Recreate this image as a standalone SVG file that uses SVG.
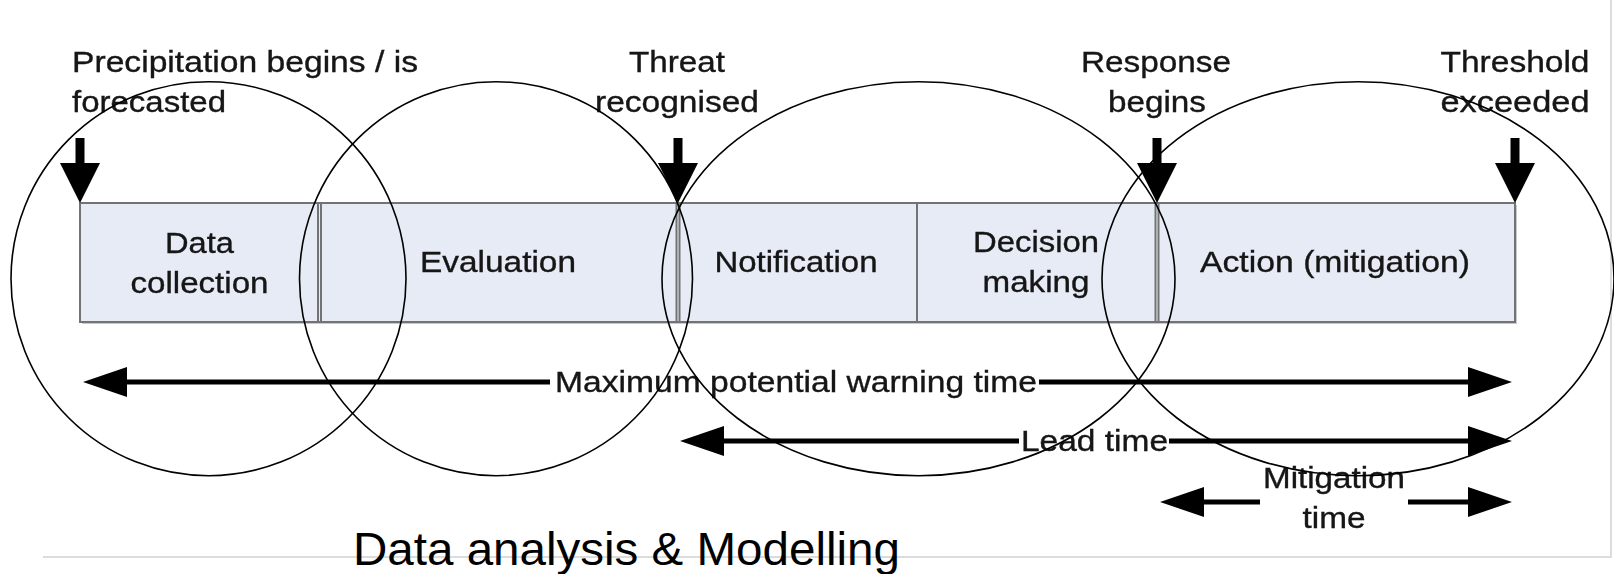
<svg xmlns="http://www.w3.org/2000/svg" width="1614" height="574" viewBox="0 0 1614 574">
  <defs>
    <style>
      .lbl { font-family: "Liberation Sans", Arial, sans-serif; font-size: 30px; fill: #141414; stroke: #141414; stroke-width: 0.35px; }
      .mid { text-anchor: middle; }
      .cell { fill: #e6ebf5; stroke: none; }
      .edge { stroke: #737373; stroke-width: 2; fill: none; }
      .shaft { stroke: #000; stroke-width: 5; fill: none; }
      .drop { stroke: #000; stroke-width: 9; fill: none; }
      .ring { fill: none; stroke: #000; stroke-width: 1.6; }
      .frame { stroke: #dcdcdc; stroke-width: 2; fill: none; }
    </style>
    <marker id="head" markerUnits="userSpaceOnUse" markerWidth="46" markerHeight="32" refX="1" refY="15" orient="auto-start-reverse" overflow="visible">
      <path d="M0,0 L44,15 L0,30 Z" fill="#000"/>
    </marker>
    <marker id="dropHead" markerUnits="userSpaceOnUse" markerWidth="42" markerHeight="42" refX="1" refY="20" orient="auto" overflow="visible">
      <path d="M0,0 L40,20 L0,40 Z" fill="#000"/>
    </marker>
    <filter id="soft" x="-2%" y="-2%" width="104%" height="104%">
      <feGaussianBlur stdDeviation="0.5"/>
    </filter>
  </defs>

  <rect width="1614" height="574" fill="#fff"/>

  <!-- page frame -->
  <g id="frame">
    <line class="frame" x1="43" y1="557" x2="1612" y2="557"/>
    <line class="frame" x1="1611" y1="0" x2="1611" y2="557"/>
  </g>

  <g id="timeline" filter="url(#soft)">
    <!-- shadow of the phase bar -->
    <rect x="82" y="205" width="1435" height="119" fill="#c9c9c9"/>

    <g id="node-data-collection">
      <rect class="cell" x="80" y="203" width="239" height="119"/>
      <text class="lbl mid" x="199.5" y="253" textLength="69" lengthAdjust="spacingAndGlyphs">Data</text>
      <text class="lbl mid" x="199.5" y="293" textLength="138" lengthAdjust="spacingAndGlyphs">collection</text>
    </g>
    <g id="node-evaluation">
      <rect class="cell" x="319" y="203" width="359" height="119"/>
      <text class="lbl mid" x="498" y="272" textLength="156" lengthAdjust="spacingAndGlyphs">Evaluation</text>
    </g>
    <g id="node-notification">
      <rect class="cell" x="678" y="203" width="239" height="119"/>
      <text class="lbl mid" x="796" y="272" textLength="163" lengthAdjust="spacingAndGlyphs">Notification</text>
    </g>
    <g id="node-decision-making">
      <rect class="cell" x="917" y="203" width="240" height="119"/>
      <text class="lbl mid" x="1036" y="252" textLength="126" lengthAdjust="spacingAndGlyphs">Decision</text>
      <text class="lbl mid" x="1036" y="292" textLength="107" lengthAdjust="spacingAndGlyphs">making</text>
    </g>
    <g id="node-action">
      <rect class="cell" x="1157" y="203" width="358" height="119"/>
      <text class="lbl mid" x="1335" y="272" textLength="270" lengthAdjust="spacingAndGlyphs">Action (mitigation)</text>
    </g>

    <!-- bar outline and phase dividers -->
    <g id="bar-edges">
      <rect class="edge" x="80" y="203" width="1435" height="119"/>
      <line class="edge" x1="318" y1="203" x2="318" y2="322"/>
      <line class="edge" x1="321" y1="203" x2="321" y2="322"/>
      <line class="edge" x1="676.5" y1="203" x2="676.5" y2="322"/>
      <line class="edge" x1="679.5" y1="203" x2="679.5" y2="322"/>
      <line class="edge" x1="917" y1="203" x2="917" y2="322"/>
      <line class="edge" x1="1155.5" y1="203" x2="1155.5" y2="322"/>
      <line class="edge" x1="1158.5" y1="203" x2="1158.5" y2="322"/>
    </g>

    <!-- milestone captions -->
    <g id="node-precipitation">
      <text class="lbl" x="72" y="72" textLength="346" lengthAdjust="spacingAndGlyphs">Precipitation begins / is</text>
      <text class="lbl" x="72" y="112" textLength="154" lengthAdjust="spacingAndGlyphs">forecasted</text>
    </g>
    <g id="node-threat">
      <text class="lbl mid" x="677" y="72" textLength="96" lengthAdjust="spacingAndGlyphs">Threat</text>
      <text class="lbl mid" x="677" y="112" textLength="164" lengthAdjust="spacingAndGlyphs">recognised</text>
    </g>
    <g id="node-response">
      <text class="lbl mid" x="1156" y="72" textLength="150" lengthAdjust="spacingAndGlyphs">Response</text>
      <text class="lbl mid" x="1157" y="112" textLength="98" lengthAdjust="spacingAndGlyphs">begins</text>
    </g>
    <g id="node-threshold">
      <text class="lbl mid" x="1515" y="72" textLength="149" lengthAdjust="spacingAndGlyphs">Threshold</text>
      <text class="lbl mid" x="1515" y="112" textLength="149" lengthAdjust="spacingAndGlyphs">exceeded</text>
    </g>

    <!-- span labels -->
    <g id="node-spans">
      <text class="lbl" x="555" y="392" textLength="482" lengthAdjust="spacingAndGlyphs">Maximum potential warning time</text>
      <text class="lbl" x="1021" y="451" textLength="147" lengthAdjust="spacingAndGlyphs">Lead time</text>
      <text class="lbl mid" x="1334" y="488" textLength="142" lengthAdjust="spacingAndGlyphs">Mitigation</text>
      <text class="lbl mid" x="1334" y="528" textLength="63" lengthAdjust="spacingAndGlyphs">time</text>
    </g>

    <g id="connectors">
      <!-- milestone markers -->
      <line class="drop" x1="80" y1="138" x2="80" y2="164" marker-end="url(#dropHead)"/>
      <line class="drop" x1="678" y1="138" x2="678" y2="164" marker-end="url(#dropHead)"/>
      <line class="drop" x1="1157" y1="138" x2="1157" y2="164" marker-end="url(#dropHead)"/>
      <line class="drop" x1="1515" y1="138" x2="1515" y2="164" marker-end="url(#dropHead)"/>
      <!-- maximum potential warning time -->
      <line class="shaft" x1="126" y1="382" x2="550" y2="382" marker-start="url(#head)"/>
      <line class="shaft" x1="1039" y1="382" x2="1469" y2="382" marker-end="url(#head)"/>
      <!-- lead time -->
      <line class="shaft" x1="723" y1="441" x2="1019" y2="441" marker-start="url(#head)"/>
      <line class="shaft" x1="1169" y1="441" x2="1469" y2="441" marker-end="url(#head)"/>
      <!-- mitigation time -->
      <line class="shaft" x1="1203" y1="502" x2="1260" y2="502" marker-start="url(#head)"/>
      <line class="shaft" x1="1408" y1="502" x2="1469" y2="502" marker-end="url(#head)"/>
    </g>
  </g>

  <!-- grouping rings drawn over the timeline -->
  <g id="rings">
    <ellipse class="ring" cx="208.5" cy="278.7" rx="197.5" ry="197"/>
    <ellipse class="ring" cx="496" cy="278.7" rx="196.5" ry="197"/>
    <ellipse class="ring" cx="918.5" cy="278.7" rx="256.5" ry="197"/>
    <ellipse class="ring" cx="1358" cy="278.7" rx="256" ry="197"/>
  </g>

  <g id="node-caption">
    <text x="353" y="565" font-family="'Liberation Sans', Arial, sans-serif" font-size="47" fill="#000" textLength="547" lengthAdjust="spacingAndGlyphs">Data analysis &amp; Modelling</text>
  </g>
</svg>
